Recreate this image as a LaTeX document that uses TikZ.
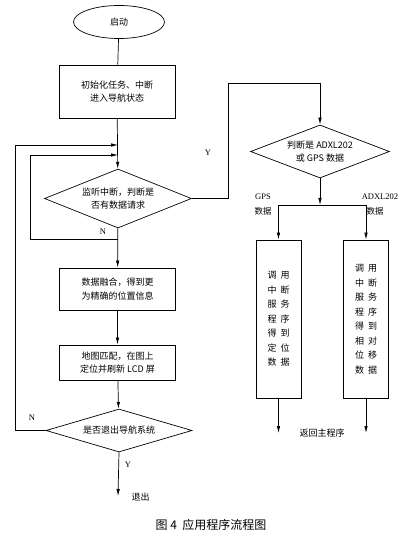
\documentclass[tikz,border=0pt]{standalone}
\usepackage{fontspec}
\setmainfont{Liberation Serif}
\newfontfamily\cjk{Noto Sans CJK SC}
\usetikzlibrary{arrows.meta, shapes.geometric}

\begin{document}
\begin{tikzpicture}[x=1pt, y=-1pt,
    font=\cjk\fontsize{9}{13.5}\selectfont,
    terminal/.style={draw, ellipse, line width=0.7pt, minimum width=91pt, minimum height=33pt, inner sep=0pt},
    box/.style={draw, line width=0.9pt, minimum width=116pt, minimum height=44pt, align=center, inner sep=1pt},
    tallbox/.style={draw, line width=0.9pt, minimum width=45pt, minimum height=158pt, align=center, inner sep=1pt, font=\cjk\fontsize{9}{14.5}\selectfont},
    decision/.style={draw, diamond, aspect=2.5, line width=0.7pt, align=center, inner sep=0pt},
    lbl/.style={font=\fontsize{8.5}{10}\selectfont},
    arrow/.style={-{Latex[length=7pt, width=3.5pt]}, line width=0.7pt},
    line/.style={line width=0.7pt},
]
\useasboundingbox (0,0) rectangle (413,545);

\node[terminal] (start) at (119,22) {启动};
\node[box, minimum height=53pt] (init) at (117,91.5) {初始化任务、中断\\进入导航状态};
\node[decision, minimum width=147pt, minimum height=59pt] (listen) at (118,198.5) {监听中断，判断是\\否有数据请求};
\node[box, minimum height=42pt] (fuse) at (117.5,289) {数据融合，得到更\\为精确的位置信息};
\node[box, minimum height=35pt] (map) at (117.5,362.5) {地图匹配，在图上\\定位并刷新 LCD 屏};
\node[decision, minimum width=146pt, minimum height=43pt] (quit) at (119,430.5) {是否退出导航系统};
\node[decision, minimum width=139pt, minimum height=53pt] (judge) at (320,151.5) {判断是 ADXL202\\或 GPS 数据};
\node[tallbox] (gpsbox) at (278.5,319) {调\hspace{4pt}用\\中\hspace{4pt}断\\服\hspace{4pt}务\\程\hspace{4pt}序\\得\hspace{4pt}到\\定\hspace{4pt}位\\数\hspace{4pt}据};
\node[tallbox] (adxlbox) at (366,319) {调\hspace{4pt}用\\中\hspace{4pt}断\\服\hspace{4pt}务\\程\hspace{4pt}序\\得\hspace{4pt}到\\相\hspace{4pt}对\\位\hspace{4pt}移\\数\hspace{4pt}据};

\coordinate (loopout) at (118,145);
\coordinate (loopin) at (118,155);
\coordinate (nsplit) at (118,239);
\coordinate (nleft) at (30,239);
\coordinate (qleft) at (15,430.5);
\coordinate (ycorner) at (228,83);
\coordinate (exitend) at (118,496);
\coordinate (split) at (320,205);
\coordinate (gpsjoin) at (278.5,205);
\coordinate (adxljoin) at (366,205);
\coordinate (gpsend) at (278.5,433);
\coordinate (adxlend) at (366,433);

\node[anchor=west] (exit) at (128,497) {退出};
\node (back) at (322,433) {返回主程序};
\node[lbl] (ylisten) at (208,153) {Y};
\node[lbl] (nlisten) at (103,232) {N};
\node[lbl] (nquit) at (32,418) {N};
\node[lbl] (yquit) at (128,465) {Y};
\node[align=center, font=\fontsize{8.5}{15}\selectfont] (gpslbl) at (263,205) {GPS\\{\cjk 数据}};
\node[align=center, font=\fontsize{8.5}{15}\selectfont] (adxllbl) at (380,205) {ADXL202\\{\cjk\hspace{-10pt}数据}};
\node[font=\cjk\fontsize{12}{14}\selectfont] (caption) at (211,525) {图 4\ \ 应用程序流程图};

\draw[line] (start) -- (init);
\draw[arrow] (init) -- (listen);
\draw[arrow] (listen.east) -| (ycorner) -| (judge.north);
\draw[arrow] (nsplit) -- (nleft) |- (loopin);
\draw[arrow] (listen) -- (fuse);
\draw[arrow] (fuse) -- (map);
\draw[arrow] (map) -- (quit);
\draw[arrow] (quit.west) -- (qleft) |- (loopout);
\draw[arrow] (quit.south) -- (exitend);
\draw[arrow] (judge.south) -- (split);
\draw[line] (gpsjoin) -- (adxljoin);
\draw[arrow] (gpsjoin) -- (gpsbox);
\draw[arrow] (adxljoin) -- (adxlbox);
\draw[arrow] (gpsbox) -- (gpsend);
\draw[arrow] (adxlbox) -- (adxlend);

\end{tikzpicture}
\end{document}
